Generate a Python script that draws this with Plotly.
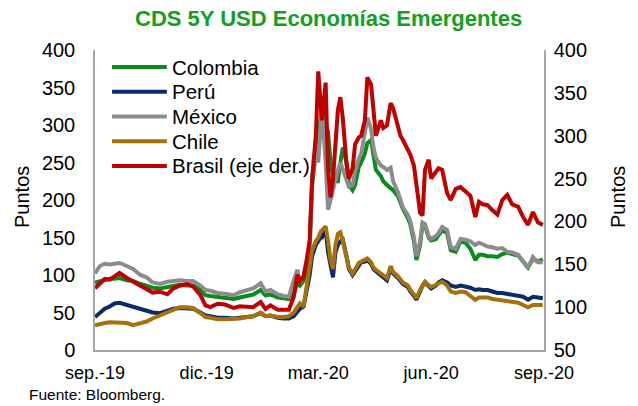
import plotly.graph_objects as go

# ---------------- data ----------------
dates = [
    "2019-09-01", "2019-09-05", "2019-09-09", "2019-09-13", "2019-09-17", "2019-09-21", "2019-09-27",
    "2019-10-02", "2019-10-08", "2019-10-13", "2019-10-18", "2019-10-24", "2019-10-30",
    "2019-11-04", "2019-11-09", "2019-11-15", "2019-11-20", "2019-11-26", "2019-11-30",
    "2019-12-04", "2019-12-10", "2019-12-16", "2019-12-23", "2019-12-28",
    "2020-01-03", "2020-01-08", "2020-01-14", "2020-01-18", "2020-01-22", "2020-01-28",
    "2020-02-02", "2020-02-06", "2020-02-10", "2020-02-13", "2020-02-15", "2020-02-18", "2020-02-20",
    "2020-02-23", "2020-02-25", "2020-02-28",
    "2020-03-01", "2020-03-03", "2020-03-04", "2020-03-07", "2020-03-09", "2020-03-11", "2020-03-13",
    "2020-03-15", "2020-03-17", "2020-03-19", "2020-03-21", "2020-03-24", "2020-03-26", "2020-03-29",
    "2020-03-31",
    "2020-04-03", "2020-04-05", "2020-04-08", "2020-04-10", "2020-04-13", "2020-04-15", "2020-04-17",
    "2020-04-21", "2020-04-23", "2020-04-26", "2020-04-29",
    "2020-05-01", "2020-05-05", "2020-05-07", "2020-05-09", "2020-05-13", "2020-05-15", "2020-05-18",
    "2020-05-20", "2020-05-23", "2020-05-25", "2020-05-27", "2020-05-30",
    "2020-06-01", "2020-06-05", "2020-06-07", "2020-06-10", "2020-06-14", "2020-06-17", "2020-06-21",
    "2020-06-25", "2020-06-29",
    "2020-07-03", "2020-07-07", "2020-07-10", "2020-07-13", "2020-07-17", "2020-07-21", "2020-07-25",
    "2020-07-29",
    "2020-08-02", "2020-08-06", "2020-08-11", "2020-08-15", "2020-08-19", "2020-08-23", "2020-08-27",
    "2020-08-31",
]

colombia = [
    90, 92, 94, 95, 95, 96, 93,
    92, 88, 85, 83, 82, 84,
    86, 87, 86, 86, 80, 73,
    72, 71, 70, 68, 70,
    72, 74, 80, 73, 74, 70,
    69, 68, 75, 90, 86, 92, 105,
    140, 220, 270,
    290, 310, 330, 300, 290, 250, 232,
    225, 225, 250, 270, 250, 220, 213,
    220,
    244, 250, 262, 276, 280, 255, 240,
    232, 225, 220, 216,
    213, 205, 197, 188, 176, 168, 145,
    120, 140, 168, 166, 150,
    146, 148, 153, 160, 156, 133, 131,
    145, 143,
    135, 120, 127, 127, 125, 125, 124,
    128,
    130, 128, 126, 118, 110, 122, 118,
    121,
]

peru = [
    44, 50, 55, 58, 62, 63, 60,
    57, 54, 52, 50, 49, 52,
    55, 56, 56, 55, 50, 46,
    45, 43, 43, 42, 43,
    44, 45, 49, 45, 46, 43,
    42, 42, 45, 52, 55, 58, 75,
    100, 125, 140,
    145, 150, 150, 160, 130, 110, 97,
    130, 140, 145, 147, 125, 108, 100,
    105,
    113, 117, 118, 120, 115, 108, 105,
    100, 98, 93, 108,
    102, 96, 91, 88, 84, 78, 72,
    67, 78, 86, 90, 85,
    82, 86, 90, 93, 90, 86, 84,
    86, 85,
    83, 80, 81, 80, 80, 78, 76,
    76,
    75, 74, 73, 71, 67, 71, 70,
    69,
]

mexico = [
    102, 112, 115, 114, 115, 116, 112,
    108, 100, 97, 90, 88, 91,
    92, 93, 92, 92, 86, 80,
    79, 76, 75, 73, 77,
    80, 82, 89, 78, 80, 74,
    72, 71, 93, 107, 89, 100, 116,
    133, 230, 270,
    250, 300, 325, 250, 187, 200, 215,
    230, 240, 250, 240, 225, 218, 220,
    238,
    255, 262, 290, 310, 295, 270, 256,
    246, 244, 240, 243,
    225, 210, 200, 190, 180, 172, 150,
    125, 145, 170, 168, 152,
    148, 152, 156, 164, 160, 137, 135,
    148, 147,
    145, 140, 143, 141, 138, 137, 135,
    136,
    131, 130, 127, 118, 109, 124, 117,
    117,
]

chile = [
    33, 35, 36, 37, 37, 37, 36,
    33, 35, 38, 42, 46, 50,
    54, 57, 57, 56, 49, 44,
    43, 41, 41, 41, 42,
    44, 45, 50, 45, 46, 44,
    44, 45, 50, 58, 62, 58, 80,
    110, 133, 145,
    150, 158, 160, 165, 145, 120, 108,
    140, 155, 157, 145, 125, 110, 102,
    108,
    116, 118, 120, 122, 117, 110, 107,
    102, 100, 96, 112,
    104, 98, 93, 90, 86, 80, 74,
    69, 80, 87, 91, 86,
    84, 87, 89, 91, 86, 78, 76,
    78, 77,
    72, 67, 70, 70, 70, 68, 67,
    66,
    64, 63, 63, 60, 57, 60, 60,
    60,
]

brasil = [
    122, 128, 133, 132, 136, 140, 134,
    130, 125, 120, 117, 118, 115,
    122, 125, 127, 124, 114, 102,
    100, 104, 103, 99, 101,
    100, 100, 106, 98, 102, 97,
    97, 97, 112, 138, 130, 135, 150,
    178, 250, 300,
    375, 330, 318, 362, 260, 228, 250,
    290, 330, 345, 320, 268, 250, 262,
    290,
    298, 300, 318, 368, 360, 330, 300,
    318, 309, 312, 338,
    332, 310, 300, 295, 283, 278, 265,
    240, 210, 207, 260, 272,
    250, 258, 262, 260, 233, 225, 238,
    240, 235,
    230, 205, 223, 220, 219, 213, 208,
    225,
    231, 220, 217, 205, 196, 211, 199,
    196,
]

series_names = ["Colombia", "Perú", "México", "Chile", "Brasil (eje der.)"]
series_values = [colombia, peru, mexico, chile, brasil]
series_colors = ["#0B8A1F", "#0C2A6B", "#8C8C8C", "#A6700A", "#C00000"]
series_axis = ["y", "y", "y", "y", "y2"]

tick_dates = ["2019-09-01", "2019-12-01", "2020-03-01", "2020-06-01", "2020-09-01"]
tick_labels = ["sep.-19", "dic.-19", "mar.-20", "jun.-20", "sep.-20"]

title_text = "CDS 5Y USD Economías Emergentes"
source_text = "Fuente: Bloomberg."
axis_title = "Puntos"

FONT = "Liberation Sans, Arial, sans-serif"
AXIS_COLOR = "#A6A6A6"

# ---------------- figure ----------------
fig = go.Figure()
for name, vals, col, ax in zip(series_names, series_values, series_colors, series_axis):
    fig.add_trace(go.Scatter(
        x=dates, y=vals, name=name, mode="lines", yaxis=ax,
        line=dict(color=col, width=4),
        showlegend=False,
    ))

fig.update_layout(
    width=638, height=406,
    margin=dict(l=95, r=94, t=50, b=56),
    paper_bgcolor="white", plot_bgcolor="white",
    font=dict(family=FONT, size=18, color="black"),
    xaxis=dict(
        type="date",
        range=["2019-09-01", "2020-09-01"],
        tickvals=tick_dates, ticktext=tick_labels,
        showgrid=False, zeroline=False,
        showline=True, linecolor=AXIS_COLOR, linewidth=1.5,
        ticks="", ticklabelstandoff=6,
        tickfont=dict(size=18),
    ),
    yaxis=dict(
        range=[0, 400], dtick=50, tick0=0,
        showgrid=False, zeroline=False,
        showline=True, linecolor=AXIS_COLOR, linewidth=1.5,
        ticks="", ticklabelstandoff=14,
        tickfont=dict(size=20),
    ),
    yaxis2=dict(
        range=[50, 400], dtick=50, tick0=50,
        overlaying="y", side="right",
        showgrid=False, zeroline=False,
        showline=True, linecolor=AXIS_COLOR, linewidth=1.5,
        ticks="", ticklabelstandoff=4,
        tickfont=dict(size=20),
    ),
    showlegend=False,
)

# title
fig.add_annotation(
    text="<b>" + title_text + "</b>", xref="paper", yref="paper",
    x=0.52, y=1.0, yshift=32, xanchor="center", yanchor="middle",
    showarrow=False, font=dict(size=22, color="#13A020", family=FONT),
)
# axis titles
fig.add_annotation(
    text=axis_title, xref="paper", yref="paper", x=0, xshift=-73, y=0.51,
    textangle=-90, showarrow=False, xanchor="center", yanchor="middle",
    font=dict(size=20),
)
fig.add_annotation(
    text=axis_title, xref="paper", yref="paper", x=1, xshift=74, y=0.51,
    textangle=-90, showarrow=False, xanchor="center", yanchor="middle",
    font=dict(size=20),
)
# source
fig.add_annotation(
    text=source_text, xref="paper", yref="paper", x=0, xshift=-68, y=0, yshift=-44,
    showarrow=False, xanchor="left", yanchor="middle", font=dict(size=15.5),
)

# manual legend
legend_rows_px = [0, 24.7, 49.4, 74.1, 98.8]
for i, (name, col) in enumerate(zip(series_names, series_colors)):
    yp = 0.943 - legend_rows_px[i] / 300.0
    fig.add_shape(type="line", xref="paper", yref="paper",
                  x0=0.038, x1=0.160, y0=yp, y1=yp,
                  line=dict(color=col, width=4))
    fig.add_annotation(text=name, xref="paper", yref="paper", x=0.168, y=yp,
                       xanchor="left", yanchor="middle", showarrow=False,
                       font=dict(size=20.5))

fig.write_html("out.html", config={"displayModeBar": False},
               post_script="document.body.style.margin='0px';")
